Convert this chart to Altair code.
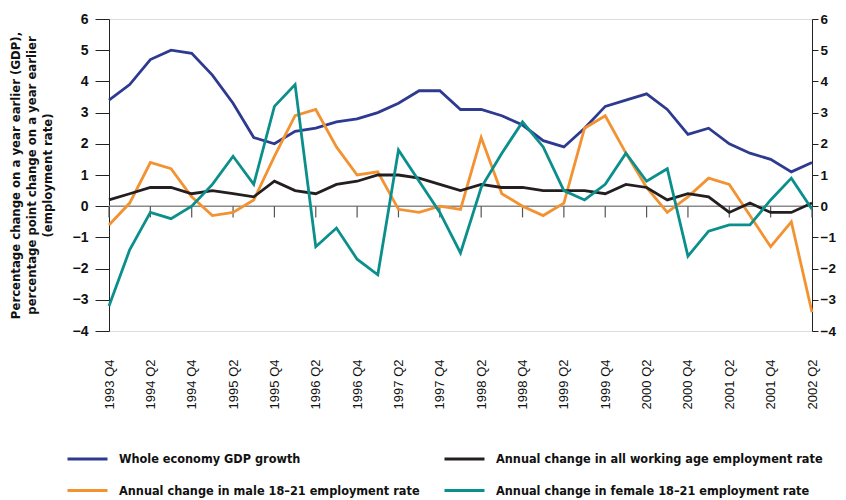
import altair as alt
import pandas as pd

quarters = ["1993 Q4",
            "1994 Q1", "1994 Q2", "1994 Q3", "1994 Q4",
            "1995 Q1", "1995 Q2", "1995 Q3", "1995 Q4",
            "1996 Q1", "1996 Q2", "1996 Q3", "1996 Q4",
            "1997 Q1", "1997 Q2", "1997 Q3", "1997 Q4",
            "1998 Q1", "1998 Q2", "1998 Q3", "1998 Q4",
            "1999 Q1", "1999 Q2", "1999 Q3", "1999 Q4",
            "2000 Q1", "2000 Q2", "2000 Q3", "2000 Q4",
            "2001 Q1", "2001 Q2", "2001 Q3", "2001 Q4",
            "2002 Q1", "2002 Q2"]

label_quarters = quarters[::2]

gdp = [3.4, 3.9, 4.7, 5.0, 4.9, 4.2, 3.3, 2.2, 2.0, 2.4, 2.5, 2.7,
       2.8, 3.0, 3.3, 3.7, 3.7, 3.1, 3.1, 2.9, 2.6, 2.1, 1.9, 2.5,
       3.2, 3.4, 3.6, 3.1, 2.3, 2.5, 2.0, 1.7, 1.5, 1.1, 1.4]
all_emp = [0.2, 0.4, 0.6, 0.6, 0.4, 0.5, 0.4, 0.3, 0.8, 0.5, 0.4, 0.7,
           0.8, 1.0, 1.0, 0.9, 0.7, 0.5, 0.7, 0.6, 0.6, 0.5, 0.5, 0.5,
           0.4, 0.7, 0.6, 0.2, 0.4, 0.3, -0.2, 0.1, -0.2, -0.2, 0.1]
male = [-0.6, 0.1, 1.4, 1.2, 0.3, -0.3, -0.2, 0.2, 1.6, 2.9, 3.1, 1.9,
        1.0, 1.1, -0.1, -0.2, 0.0, -0.1, 2.2, 0.4, 0.0, -0.3, 0.1, 2.5,
        2.9, 1.7, 0.6, -0.2, 0.3, 0.9, 0.7, -0.3, -1.3, -0.5, -3.4]
female = [-3.2, -1.4, -0.2, -0.4, 0.0, 0.7, 1.6, 0.7, 3.2, 3.9, -1.3, -0.7,
          -1.7, -2.2, 1.8, 0.8, -0.2, -1.5, 0.6, 1.7, 2.7, 1.9, 0.5, 0.2,
          0.7, 1.7, 0.8, 1.2, -1.6, -0.8, -0.6, -0.6, 0.2, 0.9, -0.1]

# legend fills column by column: GDP, male (left column); all, female (right column)
series_names = ["Whole economy GDP growth",
                "Annual change in male 18\u201321 employment rate",
                "Annual change in all working age employment rate",
                "Annual change in female 18\u201321 employment rate"]
series_values = [gdp, male, all_emp, female]
series_colors = ["#2e3a8f", "#f39231", "#231f20", "#0b8f8c"]

y_ticks = [-4, -3, -2, -1, 0, 1, 2, 3, 4, 5, 6]

rows = []
for name, vals in zip(series_names, series_values):
    for q, v in zip(quarters, vals):
        rows.append({"quarter": q, "series": name, "value": v})
df = pd.DataFrame(rows)

narrow = "DejaVu Sans Condensed, Liberation Sans Narrow, sans-serif"
regular = "Liberation Sans, Arial, sans-serif"

yscale = alt.Scale(domain=[-4, 6], nice=False, zero=False)
xscale = alt.Scale(type="point", domain=quarters, padding=0)

x_axis = alt.Axis(values=label_quarters, title=None, labelAngle=270,
                  domain=False, ticks=False, labelPadding=28,
                  labelFont=regular, labelFontSize=13, labelColor="#111")

lines = alt.Chart(df).mark_line(strokeWidth=2.8).encode(
    x=alt.X("quarter:N", scale=xscale, sort=quarters, axis=x_axis),
    y=alt.Y("value:Q", scale=yscale,
            axis=alt.Axis(values=y_ticks, orient="left",
                          title=["Percentage change on a year earlier (GDP),",
                                 "percentage point change on a year earlier",
                                 "(employment rate)"],
                          titleFont=narrow, titleFontSize=13, titleFontWeight="bold",
                          titleLineHeight=16, titlePadding=18, titleColor="#111",
                          labelFont=regular, labelFontSize=14, labelFontWeight="bold",
                          labelColor="#111", labelPadding=7, tickSize=14,
                          tickColor="#222", domainColor="#222", grid=False)),
    color=alt.Color("series:N", scale=alt.Scale(domain=series_names, range=series_colors),
                    sort=series_names,
                    legend=alt.Legend(title=None, orient="none", columns=2,
                                      legendX=-43, legendY=418,
                                      symbolType="stroke", symbolSize=1600,
                                      symbolStrokeWidth=3, labelFont=narrow,
                                      labelFontSize=12.6, labelFontWeight="bold",
                                      labelColor="#111", labelOffset=10,
                                      columnPadding=18, rowPadding=3,
                                      labelLimit=500)),
)

zero_line = alt.Chart(pd.DataFrame({"v": [0]})).mark_rule(color="#8a8a8a", strokeWidth=1.5).encode(
    y=alt.Y("v:Q", scale=yscale,
            axis=alt.Axis(values=y_ticks, orient="right", title=None,
                          labelFont=regular, labelFontSize=13.5, labelFontWeight="bold",
                          labelColor="#111", labelPadding=2, tickSize=6,
                          tickColor="#222", domainColor="#222", grid=False))
)

tick_df = pd.DataFrame({"quarter": label_quarters,
                        "top": [0.0] * len(label_quarters),
                        "bottom": [-0.36] * len(label_quarters)})
zero_ticks = alt.Chart(tick_df).mark_rule(color="#555", strokeWidth=1.2).encode(
    x=alt.X("quarter:N", scale=xscale, sort=quarters, axis=x_axis),
    y=alt.Y("top:Q", scale=yscale, axis=None),
    y2="bottom:Q",
)

chart = alt.layer(zero_line, zero_ticks, lines).resolve_scale(
    y="independent"
).properties(
    width=703, height=312,
    autosize=alt.AutoSizeParams(type="none"),
    padding={"left": 101, "top": 11, "right": 26, "bottom": 169},
).configure_view(stroke=None).configure(background="white")

chart.save("out.html", embed_options={"renderer": "svg", "actions": False})
